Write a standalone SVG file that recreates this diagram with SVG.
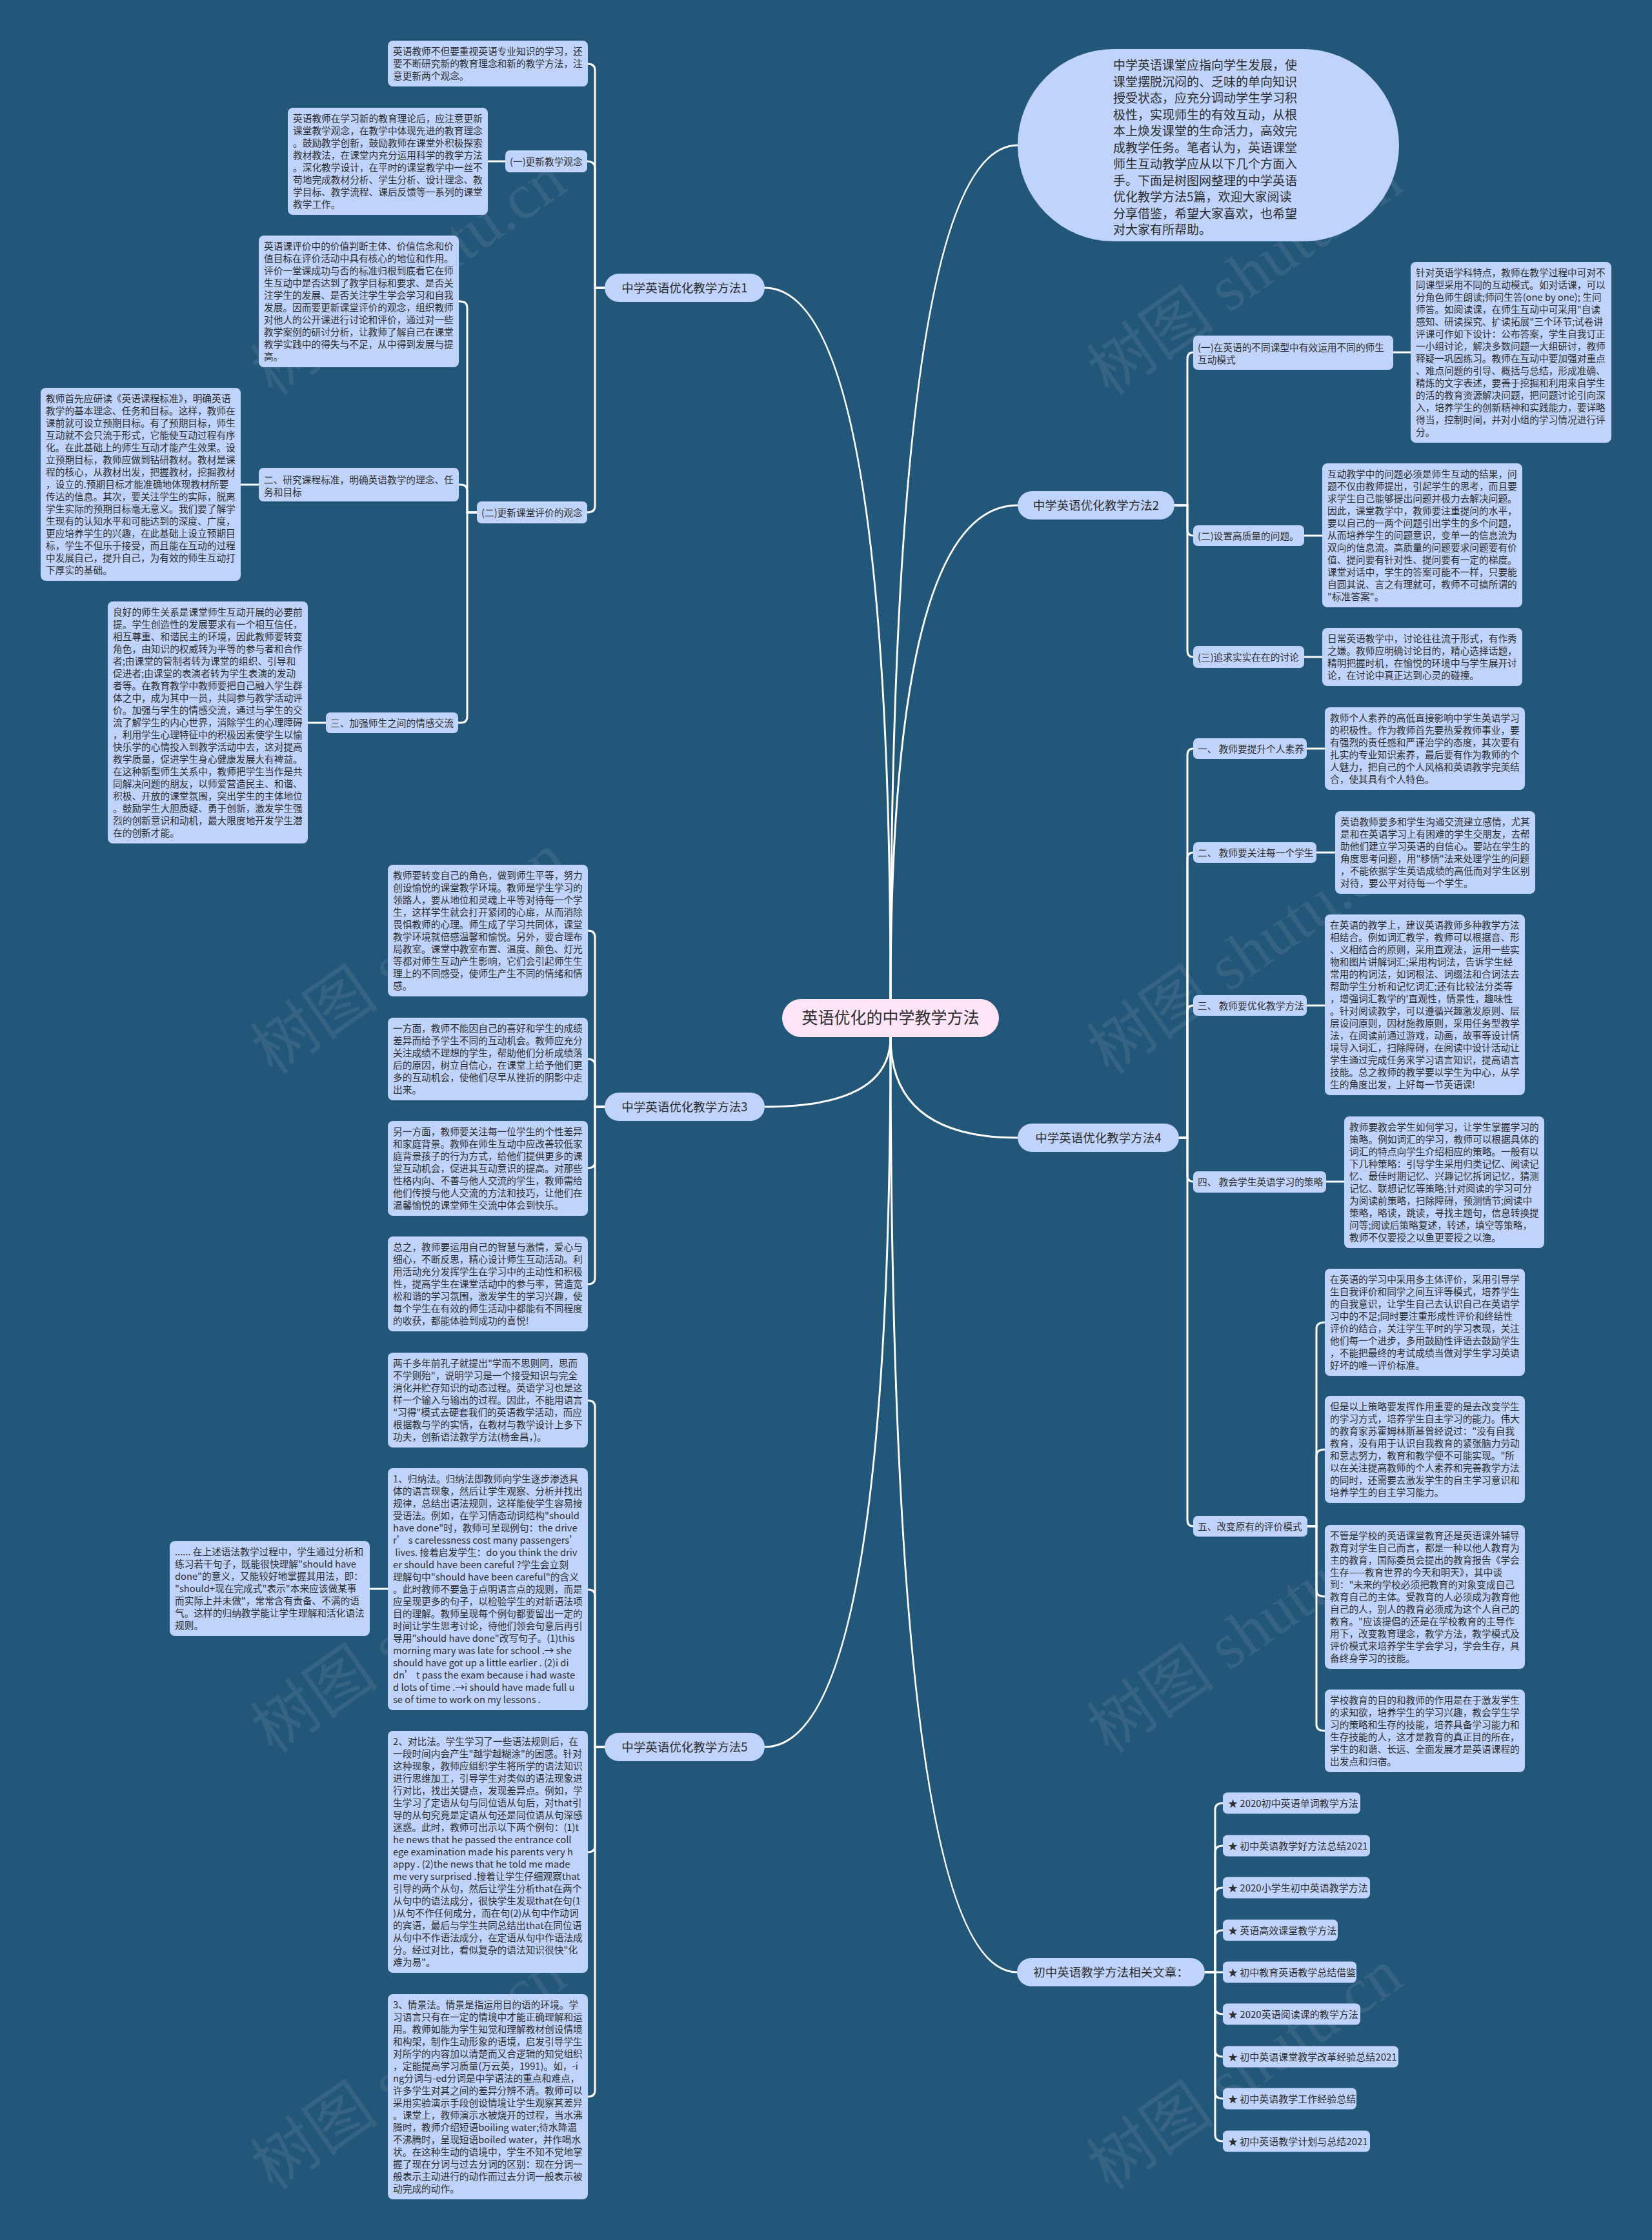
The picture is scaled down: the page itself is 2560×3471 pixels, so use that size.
<svg xmlns="http://www.w3.org/2000/svg" width="2560" height="3471" viewBox="0 0 2560 3471">
<style>
.box{fill:#c0d4fb}
.t{font-family:"Noto Sans CJK SC","Noto Sans",sans-serif;font-size:14.7px;fill:#2e2e2e}
.t1{font-family:"Noto Sans CJK SC","Noto Sans",sans-serif;font-size:18.5px;fill:#2e2e2e;text-anchor:middle}
.tb{font-family:"Noto Sans CJK SC","Noto Sans",sans-serif;font-size:19px;fill:#2e2e2e}
.ti{font-family:"Noto Sans CJK SC","Noto Sans",sans-serif;font-size:15px;fill:#2e2e2e}
.c{fill:none;stroke:#ffffff;stroke-width:3}
.wm{font-family:"Liberation Serif","Noto Sans CJK SC",serif;font-size:100px;fill:#9aa6b2;opacity:0.16}
</style>
<rect x="0" y="0" width="2560" height="3471" fill="#235779"/>

<g id="watermarks">
<text class="wm" transform="translate(653,454) rotate(-35)" text-anchor="middle">树图 shutu.cn</text>
<text class="wm" transform="translate(1949,454) rotate(-35)" text-anchor="middle">树图 shutu.cn</text>
<text class="wm" transform="translate(653,1506) rotate(-35)" text-anchor="middle">树图 shutu.cn</text>
<text class="wm" transform="translate(1949,1506) rotate(-35)" text-anchor="middle">树图 shutu.cn</text>
<text class="wm" transform="translate(653,2558) rotate(-35)" text-anchor="middle">树图 shutu.cn</text>
<text class="wm" transform="translate(1949,2558) rotate(-35)" text-anchor="middle">树图 shutu.cn</text>
<text class="wm" transform="translate(653,3235) rotate(-35)" text-anchor="middle">树图 shutu.cn</text>
<text class="wm" transform="translate(1949,3235) rotate(-35)" text-anchor="middle">树图 shutu.cn</text>
</g>

<g id="connectors" class="c">
<path d="M1380,1548 Q1380,446 1185,446"/>
<path d="M1380,1548 Q1380,225 1577,225"/>
<path d="M1380,1548 Q1380,783 1577,783"/>
<path d="M1380,1607 Q1380,1715 1185,1715"/>
<path d="M1380,1607 Q1380,1763 1577,1763"/>
<path d="M1380,1607 Q1380,2707 1185,2707"/>
<path d="M1380,1607 Q1380,3056 1576,3056"/>

<path d="M937,446 H922 V109 Q922,99 911,99"/>
<path d="M937,446 H922 V261 Q922,250 910,250"/>
<path d="M937,446 H922 V784 Q922,794 910,794"/>
<path d="M783,250 H756"/>
<path d="M739,794 H724 V477 Q724,467 713,467 H711"/>
<path d="M739,794 H724 V761 Q724,751 714,751 H711"/>
<path d="M739,794 H724 V1110 Q724,1120 714,1120 H710"/>
<path d="M401,751 H373"/>
<path d="M505,1120 H477"/>

<path d="M937,1715 H922 V1452 Q922,1442 911,1442"/>
<path d="M937,1715 H922 V1651 Q922,1641 911,1641"/>
<path d="M937,1715 H922 V1800 Q922,1810 911,1810"/>
<path d="M937,1715 H922 V1980 Q922,1990 911,1990"/>

<path d="M937,2707 H922 V2180 Q922,2170 911,2170"/>
<path d="M937,2707 H922 V2473 Q922,2463 911,2463"/>
<path d="M937,2707 H922 V2860 Q922,2870 911,2870"/>
<path d="M937,2707 H922 V3239 Q922,3249 911,3249"/>
<path d="M601,2462 H573"/>

<path d="M1820,783 H1840 V556 Q1840,546 1849,546"/>
<path d="M1820,783 H1840 V820 Q1840,830 1849,830"/>
<path d="M1820,783 H1840 V1008 Q1840,1018 1849,1018"/>
<path d="M2159,546 H2186"/>
<path d="M2021,830 H2049"/>
<path d="M2021,1018 H2049"/>

<path d="M1827,1763 H1840 V1170 Q1840,1160 1849,1160"/>
<path d="M1827,1763 H1840 V1331 Q1840,1321 1849,1321"/>
<path d="M1827,1763 H1840 V1568 Q1840,1558 1849,1558"/>
<path d="M1827,1763 H1840 V1821 Q1840,1831 1849,1831"/>
<path d="M1827,1763 H1840 V2355 Q1840,2365 1849,2365"/>
<path d="M2025,1160 H2053"/>
<path d="M2040,1321 H2069"/>
<path d="M2025,1558 H2053"/>
<path d="M2055,1831 H2083"/>
<path d="M2026,2365 H2040 V2059 Q2040,2049 2053,2049"/>
<path d="M2026,2365 H2040 V2256 Q2040,2246 2053,2246"/>
<path d="M2026,2365 H2040 V2464 Q2040,2474 2053,2474"/>
<path d="M2026,2365 H2040 V2672 Q2040,2682 2053,2682"/>

<path d="M1867,3056 H1883 V2804 Q1883,2794 1895,2794"/>
<path d="M1867,3056 H1883 V2870 Q1883,2860 1895,2860"/>
<path d="M1867,3056 H1883 V2935 Q1883,2925 1895,2925"/>
<path d="M1867,3056 H1883 V3001 Q1883,2991 1895,2991"/>
<path d="M1867,3056 H1895"/>
<path d="M1867,3056 H1883 V3111 Q1883,3121 1895,3121"/>
<path d="M1867,3056 H1883 V3177 Q1883,3187 1895,3187"/>
<path d="M1867,3056 H1883 V3242 Q1883,3252 1895,3252"/>
<path d="M1867,3056 H1883 V3308 Q1883,3318 1895,3318"/>
</g>

<g id="root">
<rect x="1212" y="1548" width="336" height="59" rx="29.5" fill="#fde4f6"/>
<text x="1380" y="1586" text-anchor="middle" style="font-family:'Noto Sans CJK SC',sans-serif;font-size:25px;fill:#2e2e2e">英语优化的中学教学方法</text>
</g>

<g id="intro">
<rect class="box" x="1577" y="76" width="591" height="298" rx="149"/>
<text class="tb">
<tspan x="1725" y="108">中学英语课堂应指向学生发展，使</tspan>
<tspan x="1725" y="133.5">课堂摆脱沉闷的、乏味的单向知识</tspan>
<tspan x="1725" y="159">授受状态，应充分调动学生学习积</tspan>
<tspan x="1725" y="184.5">极性，实现师生的有效互动，从根</tspan>
<tspan x="1725" y="210">本上焕发课堂的生命活力，高效完</tspan>
<tspan x="1725" y="235.5">成教学任务。笔者认为，英语课堂</tspan>
<tspan x="1725" y="261">师生互动教学应从以下几个方面入</tspan>
<tspan x="1725" y="286.5">手。下面是树图网整理的中学英语</tspan>
<tspan x="1725" y="312">优化教学方法5篇，欢迎大家阅读</tspan>
<tspan x="1725" y="337.5">分享借鉴，希望大家喜欢，也希望</tspan>
<tspan x="1725" y="363">对大家有所帮助。</tspan>
</text>
</g>

<g id="m1"><rect class="box" x="937" y="424" width="248" height="44" rx="22"/><text class="t1" x="1061" y="452.5">中学英语优化教学方法1</text></g>
<g id="m2"><rect class="box" x="1577" y="761" width="243" height="44" rx="22"/><text class="t1" x="1698.5" y="789.5">中学英语优化教学方法2</text></g>
<g id="m3"><rect class="box" x="937" y="1693" width="248" height="44" rx="22"/><text class="t1" x="1061" y="1721.5">中学英语优化教学方法3</text></g>
<g id="m4"><rect class="box" x="1577" y="1741" width="250" height="44" rx="22"/><text class="t1" x="1702" y="1769.5">中学英语优化教学方法4</text></g>
<g id="m5"><rect class="box" x="937" y="2685" width="248" height="44" rx="22"/><text class="t1" x="1061" y="2713.5">中学英语优化教学方法5</text></g>
<g id="m6"><rect class="box" x="1576" y="3034" width="291" height="44" rx="22"/><text class="t1" x="1721.5" y="3062.5">初中英语教学方法相关文章：</text></g>

<g id="boxA"><rect class="box" x="601" y="63" width="310" height="71" rx="8"/>
<text class="t"><tspan x="609" y="85">英语教师不但要重视英语专业知识的学习，还</tspan><tspan x="609" y="104">要不断研究新的教育理念和新的教学方法，注</tspan><tspan x="609" y="123">意更新两个观念。</tspan></text></g>

<g id="lab1a"><rect class="box" x="783" y="233" width="127" height="34" rx="7"/><text class="t" x="790" y="255.5">(一)更新教学观念</text></g>

<g id="boxB"><rect class="box" x="446" y="167" width="310" height="166" rx="8"/>
<text class="t"><tspan x="454" y="189">英语教师在学习新的教育理论后，应注意更新</tspan><tspan x="454" y="208">课堂教学观念，在教学中体现先进的教育理念</tspan><tspan x="454" y="227">。鼓励教学创新，鼓励教师在课堂外积极探索</tspan><tspan x="454" y="246">教材教法，在课堂内充分运用科学的教学方法</tspan><tspan x="454" y="265">。深化教学设计，在平时的课堂教学中一丝不</tspan><tspan x="454" y="284">苟地完成教材分析、学生分析、设计理念、教</tspan><tspan x="454" y="303">学目标、教学流程、课后反馈等一系列的课堂</tspan><tspan x="454" y="322">教学工作。</tspan></text></g>

<g id="lab1b"><rect class="box" x="739" y="777" width="171" height="34" rx="7"/><text class="t" x="746" y="799.5">(二)更新课堂评价的观念</text></g>

<g id="boxC"><rect class="box" x="401" y="365" width="310" height="204" rx="8"/>
<text class="t"><tspan x="409" y="387">英语课评价中的价值判断主体、价值信念和价</tspan><tspan x="409" y="406">值目标在评价活动中具有核心的地位和作用。</tspan><tspan x="409" y="425">评价一堂课成功与否的标准归根到底看它在师</tspan><tspan x="409" y="444">生互动中是否达到了教学目标和要求、是否关</tspan><tspan x="409" y="463">注学生的发展、是否关注学生学会学习和自我</tspan><tspan x="409" y="482">发展。因而要更新课堂评价的观念，组织教师</tspan><tspan x="409" y="501">对他人的公开课进行讨论和评价，通过对一些</tspan><tspan x="409" y="520">教学案例的研讨分析，让教师了解自己在课堂</tspan><tspan x="409" y="539">教学实践中的得失与不足，从中得到发展与提</tspan><tspan x="409" y="558">高。</tspan></text></g>

<g id="lab2"><rect class="box" x="401" y="725" width="310" height="52" rx="7"/>
<text class="t"><tspan x="409" y="748.5">二、研究课程标准，明确英语教学的理念、任</tspan><tspan x="409" y="767.5">务和目标</tspan></text></g>

<g id="boxD"><rect class="box" x="63" y="601" width="310" height="299" rx="8"/>
<text class="t"><tspan x="71" y="623">教师首先应研读《英语课程标准》，明确英语</tspan><tspan x="71" y="642">教学的基本理念、任务和目标。这样，教师在</tspan><tspan x="71" y="661">课前就可设立预期目标。有了预期目标，师生</tspan><tspan x="71" y="680">互动就不会只流于形式，它能使互动过程有序</tspan><tspan x="71" y="699">化。在此基础上的师生互动才能产生效果。设</tspan><tspan x="71" y="718">立预期目标，教师应做到钻研教材。教材是课</tspan><tspan x="71" y="737">程的核心，从教材出发，把握教材，挖掘教材</tspan><tspan x="71" y="756">，设立的.预期目标才能准确地体现教材所要</tspan><tspan x="71" y="775">传达的信息。其次，要关注学生的实际，脱离</tspan><tspan x="71" y="794">学生实际的预期目标毫无意义。我们要了解学</tspan><tspan x="71" y="813">生现有的认知水平和可能达到的深度、广度，</tspan><tspan x="71" y="832">更应培养学生的兴趣，在此基础上设立预期目</tspan><tspan x="71" y="851">标，学生不但乐于接受，而且能在互动的过程</tspan><tspan x="71" y="870">中发展自己，提升自己，为有效的师生互动打</tspan><tspan x="71" y="889">下厚实的基础。</tspan></text></g>

<g id="lab3"><rect class="box" x="505" y="1104" width="205" height="32" rx="7"/><text class="t" x="512" y="1125.5">三、加强师生之间的情感交流</text></g>

<g id="boxE"><rect class="box" x="167" y="932" width="310" height="375" rx="8"/>
<text class="t"><tspan x="175" y="954">良好的师生关系是课堂师生互动开展的必要前</tspan><tspan x="175" y="973">提。学生创造性的发展要求有一个相互信任，</tspan><tspan x="175" y="992">相互尊重、和谐民主的环境，因此教师要转变</tspan><tspan x="175" y="1011">角色，由知识的权威转为平等的参与者和合作</tspan><tspan x="175" y="1030">者;由课堂的管制者转为课堂的组织、引导和</tspan><tspan x="175" y="1049">促进者;由课堂的表演者转为学生表演的发动</tspan><tspan x="175" y="1068">者等。在教育教学中教师要把自己融入学生群</tspan><tspan x="175" y="1087">体之中，成为其中一员，共同参与教学活动评</tspan><tspan x="175" y="1106">价。加强与学生的情感交流，通过与学生的交</tspan><tspan x="175" y="1125">流了解学生的内心世界，消除学生的心理障碍</tspan><tspan x="175" y="1144">，利用学生心理特征中的积极因素使学生以愉</tspan><tspan x="175" y="1163">快乐学的心情投入到教学活动中去，这对提高</tspan><tspan x="175" y="1182">教学质量，促进学生身心健康发展大有裨益。</tspan><tspan x="175" y="1201">在这种新型师生关系中，教师把学生当作是共</tspan><tspan x="175" y="1220">同解决问题的朋友，以师爱营造民主、和谐、</tspan><tspan x="175" y="1239">积极、开放的课堂氛围，突出学生的主体地位</tspan><tspan x="175" y="1258">。鼓励学生大胆质疑、勇于创新，激发学生强</tspan><tspan x="175" y="1277">烈的创新意识和动机，最大限度地开发学生潜</tspan><tspan x="175" y="1296">在的创新才能。</tspan></text></g>

<g id="boxF"><rect class="box" x="601" y="1340" width="310" height="204" rx="8"/>
<text class="t"><tspan x="609" y="1362">教师要转变自己的角色，做到师生平等，努力</tspan><tspan x="609" y="1381">创设愉悦的课堂教学环境。教师是学生学习的</tspan><tspan x="609" y="1400">领路人，要从地位和灵魂上平等对待每一个学</tspan><tspan x="609" y="1419">生，这样学生就会打开紧闭的心扉，从而消除</tspan><tspan x="609" y="1438">畏惧教师的心理。师生成了学习共同体，课堂</tspan><tspan x="609" y="1457">教学环境就倍感温馨和愉悦。另外，要合理布</tspan><tspan x="609" y="1476">局教室。课堂中教室布置、温度、颜色、灯光</tspan><tspan x="609" y="1495">等都对师生互动产生影响，它们会引起师生生</tspan><tspan x="609" y="1514">理上的不同感受，使师生产生不同的情绪和情</tspan><tspan x="609" y="1533">感。</tspan></text></g>

<g id="boxG"><rect class="box" x="601" y="1577" width="310" height="128" rx="8"/>
<text class="t"><tspan x="609" y="1599">一方面，教师不能因自己的喜好和学生的成绩</tspan><tspan x="609" y="1618">差异而给予学生不同的互动机会。教师应充分</tspan><tspan x="609" y="1637">关注成绩不理想的学生，帮助他们分析成绩落</tspan><tspan x="609" y="1656">后的原因，树立自信心，在课堂上给予他们更</tspan><tspan x="609" y="1675">多的互动机会，使他们尽早从挫折的阴影中走</tspan><tspan x="609" y="1694">出来。</tspan></text></g>

<g id="boxH"><rect class="box" x="601" y="1737" width="310" height="147" rx="8"/>
<text class="t"><tspan x="609" y="1759">另一方面，教师要关注每一位学生的个性差异</tspan><tspan x="609" y="1778">和家庭背景。教师在师生互动中应改善较低家</tspan><tspan x="609" y="1797">庭背景孩子的行为方式，给他们提供更多的课</tspan><tspan x="609" y="1816">堂互动机会，促进其互动意识的提高。对那些</tspan><tspan x="609" y="1835">性格内向、不善与他人交流的学生，教师需给</tspan><tspan x="609" y="1854">他们传授与他人交流的方法和技巧，让他们在</tspan><tspan x="609" y="1873">温馨愉悦的课堂师生交流中体会到快乐。</tspan></text></g>

<g id="boxI"><rect class="box" x="601" y="1916" width="310" height="147" rx="8"/>
<text class="t"><tspan x="609" y="1938">总之，教师要运用自己的智慧与激情，爱心与</tspan><tspan x="609" y="1957">细心，不断反思，精心设计师生互动活动。利</tspan><tspan x="609" y="1976">用活动充分发挥学生在学习中的主动性和积极</tspan><tspan x="609" y="1995">性，提高学生在课堂活动中的参与率，营造宽</tspan><tspan x="609" y="2014">松和谐的学习氛围，激发学生的学习兴趣，使</tspan><tspan x="609" y="2033">每个学生在有效的师生活动中都能有不同程度</tspan><tspan x="609" y="2052">的收获，都能体验到成功的喜悦!</tspan></text></g>

<g id="boxJ"><rect class="box" x="601" y="2096" width="310" height="147" rx="8"/>
<text class="t"><tspan x="609" y="2118">两千多年前孔子就提出"学而不思则罔，思而</tspan><tspan x="609" y="2137">不学则殆"，说明学习是一个接受知识与完全</tspan><tspan x="609" y="2156">消化并贮存知识的动态过程。英语学习也是这</tspan><tspan x="609" y="2175">样一个输入与输出的过程。因此，不能用语言</tspan><tspan x="609" y="2194">"习得"模式去硬套我们的英语教学活动，而应</tspan><tspan x="609" y="2213">根据教与学的实情，在教材与教学设计上多下</tspan><tspan x="609" y="2232">功夫，创新语法教学方法(杨金昌，)。</tspan></text></g>

<g id="boxK"><rect class="box" x="601" y="2275" width="310" height="375" rx="8"/>
<text class="t"><tspan x="609" y="2297">1、归纳法。归纳法即教师向学生逐步渗透具</tspan><tspan x="609" y="2316">体的语言现象，然后让学生观察、分析并找出</tspan><tspan x="609" y="2335">规律，总结出语法规则，这样能使学生容易接</tspan><tspan x="609" y="2354">受语法。例如，在学习情态动词结构"should</tspan><tspan x="609" y="2373">have done"时，教师可呈现例句：the drive</tspan><tspan x="609" y="2392">r’ s carelessness cost many passengers’</tspan><tspan x="609" y="2411"> lives. 接着启发学生：do you think the driv</tspan><tspan x="609" y="2430">er should have been careful ?学生会立刻</tspan><tspan x="609" y="2449">理解句中"should have been careful"的含义</tspan><tspan x="609" y="2468">。此时教师不要急于点明语言点的规则，而是</tspan><tspan x="609" y="2487">应呈现更多的句子，以检验学生的对新语法项</tspan><tspan x="609" y="2506">目的理解。教师呈现每个例句都要留出一定的</tspan><tspan x="609" y="2525">时间让学生思考讨论，待他们领会句意后再引</tspan><tspan x="609" y="2544">导用"should have done"改写句子。(1)this</tspan><tspan x="609" y="2563">morning mary was late for school .→ she</tspan><tspan x="609" y="2582">should have got up a little earlier . (2)i di</tspan><tspan x="609" y="2601">dn’ t pass the exam because i had waste</tspan><tspan x="609" y="2620">d lots of time .→i should have made full u</tspan><tspan x="609" y="2639">se of time to work on my lessons .</tspan></text></g>

<g id="boxN"><rect class="box" x="263" y="2388" width="310" height="147" rx="8"/>
<text class="t"><tspan x="271" y="2410">...... 在上述语法教学过程中，学生通过分析和</tspan><tspan x="271" y="2429">练习若干句子，既能很快理解"should have</tspan><tspan x="271" y="2448">done"的意义，又能较好地掌握其用法，即：</tspan><tspan x="271" y="2467">"should+现在完成式"表示"本来应该做某事</tspan><tspan x="271" y="2486">而实际上并未做"，常常含有责备、不满的语</tspan><tspan x="271" y="2505">气。这样的归纳教学能让学生理解和活化语法</tspan><tspan x="271" y="2524">规则。</tspan></text></g>

<g id="boxL"><rect class="box" x="601" y="2682" width="310" height="375" rx="8"/>
<text class="t"><tspan x="609" y="2704">2、对比法。学生学习了一些语法规则后，在</tspan><tspan x="609" y="2723">一段时间内会产生"越学越糊涂"的困惑。针对</tspan><tspan x="609" y="2742">这种现象，教师应组织学生将所学的语法知识</tspan><tspan x="609" y="2761">进行思维加工，引导学生对类似的语法现象进</tspan><tspan x="609" y="2780">行对比，找出关键点，发现差异点。例如，学</tspan><tspan x="609" y="2799">生学习了定语从句与同位语从句后，对that引</tspan><tspan x="609" y="2818">导的从句究竟是定语从句还是同位语从句深感</tspan><tspan x="609" y="2837">迷惑。此时，教师可出示以下两个例句：(1)t</tspan><tspan x="609" y="2856">he news that he passed the entrance coll</tspan><tspan x="609" y="2875">ege examination made his parents very h</tspan><tspan x="609" y="2894">appy . (2)the news that he told me made</tspan><tspan x="609" y="2913">me very surprised .接着让学生仔细观察that</tspan><tspan x="609" y="2932">引导的两个从句，然后让学生分析that在两个</tspan><tspan x="609" y="2951">从句中的语法成分，很快学生发现that在句(1</tspan><tspan x="609" y="2970">)从句不作任何成分，而在句(2)从句中作动词</tspan><tspan x="609" y="2989">的宾语，最后与学生共同总结出that在同位语</tspan><tspan x="609" y="3008">从句中不作语法成分，在定语从句中作语法成</tspan><tspan x="609" y="3027">分。经过对比，看似复杂的语法知识很快"化</tspan><tspan x="609" y="3046">难为易"。</tspan></text></g>

<g id="boxM"><rect class="box" x="601" y="3090" width="310" height="318" rx="8"/>
<text class="t"><tspan x="609" y="3112">3、情景法。情景是指运用目的语的环境。学</tspan><tspan x="609" y="3131">习语言只有在一定的情境中才能正确理解和运</tspan><tspan x="609" y="3150">用。教师如能为学生知觉和理解教材创设情境</tspan><tspan x="609" y="3169">和构架，制作生动形象的语境，启发引导学生</tspan><tspan x="609" y="3188">对所学的内容加以清楚而又合逻辑的知觉组织</tspan><tspan x="609" y="3207">，定能提高学习质量(万云英，1991)。如，-i</tspan><tspan x="609" y="3226">ng分词与-ed分词是中学语法的重点和难点，</tspan><tspan x="609" y="3245">许多学生对其之间的差异分辨不清。教师可以</tspan><tspan x="609" y="3264">采用实验演示手段创设情境让学生观察其差异</tspan><tspan x="609" y="3283">。课堂上，教师演示水被烧开的过程，当水沸</tspan><tspan x="609" y="3302">腾时，教师介绍短语boiling water;待水降温</tspan><tspan x="609" y="3321">不沸腾时，呈现短语boiled water，并作喝水</tspan><tspan x="609" y="3340">状。在这种生动的语境中，学生不知不觉地掌</tspan><tspan x="609" y="3359">握了现在分词与过去分词的区别：现在分词一</tspan><tspan x="609" y="3378">般表示主动进行的动作而过去分词一般表示被</tspan><tspan x="609" y="3397">动完成的动作。</tspan></text></g>

<g id="labR1"><rect class="box" x="1849" y="520" width="310" height="53" rx="7"/>
<text class="t"><tspan x="1856" y="543.5">(一)在英语的不同课型中有效运用不同的师生</tspan><tspan x="1856" y="562.5">互动模式</tspan></text></g>

<g id="boxO"><rect class="box" x="2186" y="406" width="311" height="280" rx="8"/>
<text class="t"><tspan x="2194" y="428">针对英语学科特点，教师在教学过程中可对不</tspan><tspan x="2194" y="447">同课型采用不同的互动模式。如对话课，可以</tspan><tspan x="2194" y="466">分角色师生朗读;师问生答(one by one); 生问</tspan><tspan x="2194" y="485">师答。如阅读课，在师生互动中可采用"自读</tspan><tspan x="2194" y="504">感知、研读探究、扩读拓展"三个环节;试卷讲</tspan><tspan x="2194" y="523">评课可作如下设计：公布答案，学生自我订正</tspan><tspan x="2194" y="542">一小组讨论，解决多数问题一大组研讨，教师</tspan><tspan x="2194" y="561">释疑一巩固练习。教师在互动中要加强对重点</tspan><tspan x="2194" y="580">、难点问题的引导、概括与总结，形成准确、</tspan><tspan x="2194" y="599">精炼的文字表述，要善于挖掘和利用来自学生</tspan><tspan x="2194" y="618">的活的教育资源解决问题，把问题讨论引向深</tspan><tspan x="2194" y="637">入，培养学生的创新精神和实践能力，要详略</tspan><tspan x="2194" y="656">得当，控制时间，并对小组的学习情况进行评</tspan><tspan x="2194" y="675">分。</tspan></text></g>

<g id="labR2"><rect class="box" x="1849" y="814" width="172" height="32" rx="7"/><text class="t" x="1856" y="835.5">(二)设置高质量的问题。</text></g>

<g id="boxP"><rect class="box" x="2049" y="718" width="310" height="223" rx="8"/>
<text class="t"><tspan x="2057" y="740">互动教学中的问题必须是师生互动的结果，问</tspan><tspan x="2057" y="759">题不仅由教师提出，引起学生的思考，而且要</tspan><tspan x="2057" y="778">求学生自己能够提出问题并极力去解决问题。</tspan><tspan x="2057" y="797">因此，课堂教学中，教师要注重提问的水平，</tspan><tspan x="2057" y="816">要以自己的一两个问题引出学生的多个问题，</tspan><tspan x="2057" y="835">从而培养学生的问题意识，变单一的信息流为</tspan><tspan x="2057" y="854">双向的信息流。高质量的问题要求问题要有价</tspan><tspan x="2057" y="873">值、提问要有针对性、提问要有一定的梯度。</tspan><tspan x="2057" y="892">课堂对话中，学生的答案可能不一样，只要能</tspan><tspan x="2057" y="911">自圆其说、言之有理就可，教师不可搞所谓的</tspan><tspan x="2057" y="930">"标准答案"。</tspan></text></g>

<g id="labR3"><rect class="box" x="1849" y="1001" width="172" height="34" rx="7"/><text class="t" x="1856" y="1023.5">(三)追求实实在在的讨论</text></g>

<g id="boxQ"><rect class="box" x="2049" y="973" width="310" height="90" rx="8"/>
<text class="t"><tspan x="2057" y="995">日常英语教学中，讨论往往流于形式，有作秀</tspan><tspan x="2057" y="1014">之嫌。教师应明确讨论目的，精心选择话题，</tspan><tspan x="2057" y="1033">精明把握时机，在愉悦的环境中与学生展开讨</tspan><tspan x="2057" y="1052">论，在讨论中真正达到心灵的碰撞。</tspan></text></g>

<g id="labR4"><rect class="box" x="1849" y="1144" width="176" height="32" rx="7"/><text class="t" x="1856" y="1165.5">一、 教师要提升个人素养</text></g>
<g id="boxR"><rect class="box" x="2053" y="1096" width="310" height="128" rx="8"/>
<text class="t"><tspan x="2061" y="1118">教师个人素养的高低直接影响中学生英语学习</tspan><tspan x="2061" y="1137">的积极性。作为教师首先要热爱教师事业，要</tspan><tspan x="2061" y="1156">有强烈的责任感和严谨治学的态度，其次要有</tspan><tspan x="2061" y="1175">扎实的专业知识素养，最后要有作为教师的个</tspan><tspan x="2061" y="1194">人魅力，把自己的个人风格和英语教学完美结</tspan><tspan x="2061" y="1213">合，使其具有个人特色。</tspan></text></g>

<g id="labR5"><rect class="box" x="1849" y="1305" width="191" height="32" rx="7"/><text class="t" x="1856" y="1326.5">二、 教师要关注每一个学生</text></g>
<g id="boxS"><rect class="box" x="2069" y="1257" width="310" height="128" rx="8"/>
<text class="t"><tspan x="2077" y="1279">英语教师要多和学生沟通交流建立感情，尤其</tspan><tspan x="2077" y="1298">是和在英语学习上有困难的学生交朋友，去帮</tspan><tspan x="2077" y="1317">助他们建立学习英语的自信心。要站在学生的</tspan><tspan x="2077" y="1336">角度思考问题，用"移情"法来处理学生的问题</tspan><tspan x="2077" y="1355">，不能依据学生英语成绩的高低而对学生区别</tspan><tspan x="2077" y="1374">对待，要公平对待每一个学生。</tspan></text></g>

<g id="labR6"><rect class="box" x="1849" y="1542" width="176" height="32" rx="7"/><text class="t" x="1856" y="1563.5">三、 教师要优化教学方法</text></g>
<g id="boxT"><rect class="box" x="2053" y="1417" width="310" height="280" rx="8"/>
<text class="t"><tspan x="2061" y="1439">在英语的教学上，建议英语教师多种教学方法</tspan><tspan x="2061" y="1458">相结合。例如词汇教学，教师可以根据音、形</tspan><tspan x="2061" y="1477">、义相结合的原则，采用直观法，运用一些实</tspan><tspan x="2061" y="1496">物和图片讲解词汇;采用构词法，告诉学生经</tspan><tspan x="2061" y="1515">常用的构词法，如词根法、词缀法和合词法去</tspan><tspan x="2061" y="1534">帮助学生分析和记忆词汇;还有比较法分类等</tspan><tspan x="2061" y="1553">，增强词汇教学的'直观性，情景性，趣味性</tspan><tspan x="2061" y="1572">。针对阅读教学，可以遵循兴趣激发原则、层</tspan><tspan x="2061" y="1591">层设问原则，因材施教原则，采用任务型教学</tspan><tspan x="2061" y="1610">法，在阅读前通过游戏，动画，故事等设计情</tspan><tspan x="2061" y="1629">境导入词汇，扫除障碍，在阅读中设计活动让</tspan><tspan x="2061" y="1648">学生通过完成任务来学习语言知识，提高语言</tspan><tspan x="2061" y="1667">技能。总之教师的教学要以学生为中心，从学</tspan><tspan x="2061" y="1686">生的角度出发，上好每一节英语课!</tspan></text></g>

<g id="labR7"><rect class="box" x="1849" y="1815" width="206" height="33" rx="7"/><text class="t" x="1856" y="1836.5">四、 教会学生英语学习的策略</text></g>
<g id="boxU"><rect class="box" x="2083" y="1730" width="310" height="204" rx="8"/>
<text class="t"><tspan x="2091" y="1752">教师要教会学生如何学习，让学生掌握学习的</tspan><tspan x="2091" y="1771">策略。例如词汇的学习，教师可以根据具体的</tspan><tspan x="2091" y="1790">词汇的特点向学生介绍相应的策略。一般有以</tspan><tspan x="2091" y="1809">下几种策略：引导学生采用归类记忆、阅读记</tspan><tspan x="2091" y="1828">忆、最佳时期记忆、兴趣记忆拆词记忆，猜测</tspan><tspan x="2091" y="1847">记忆、联想记忆等策略;针对阅读的学习可分</tspan><tspan x="2091" y="1866">为阅读前策略，扫除障碍，预测情节;阅读中</tspan><tspan x="2091" y="1885">策略，略读，跳读，寻找主题句，信息转换提</tspan><tspan x="2091" y="1904">问等;阅读后策略复述，转述，填空等策略，</tspan><tspan x="2091" y="1923">教师不仅要授之以鱼更要授之以渔。</tspan></text></g>

<g id="labR8"><rect class="box" x="1849" y="2349" width="177" height="32" rx="7"/><text class="t" x="1856" y="2370.5">五、改变原有的评价模式</text></g>
<g id="boxV"><rect class="box" x="2053" y="1966" width="310" height="166" rx="8"/>
<text class="t"><tspan x="2061" y="1988">在英语的学习中采用多主体评价，采用引导学</tspan><tspan x="2061" y="2007">生自我评价和同学之间互评等模式，培养学生</tspan><tspan x="2061" y="2026">的自我意识，让学生自己去认识自己在英语学</tspan><tspan x="2061" y="2045">习中的不足;同时要注重形成性评价和终结性</tspan><tspan x="2061" y="2064">评价的结合，关注学生平时的学习表现，关注</tspan><tspan x="2061" y="2083">他们每一个进步，多用鼓励性评语去鼓励学生</tspan><tspan x="2061" y="2102">，不能把最终的考试成绩当做对学生学习英语</tspan><tspan x="2061" y="2121">好坏的唯一评价标准。</tspan></text></g>
<g id="boxW"><rect class="box" x="2053" y="2163" width="310" height="166" rx="8"/>
<text class="t"><tspan x="2061" y="2185">但是以上策略要发挥作用重要的是去改变学生</tspan><tspan x="2061" y="2204">的学习方式，培养学生自主学习的能力。伟大</tspan><tspan x="2061" y="2223">的教育家苏霍姆林斯基曾经说过："没有自我</tspan><tspan x="2061" y="2242">教育，没有用于认识自我教育的紧张脑力劳动</tspan><tspan x="2061" y="2261">和意志努力，教育和教学便不可能实现。"所</tspan><tspan x="2061" y="2280">以在关注提高教师的个人素养和完善教学方法</tspan><tspan x="2061" y="2299">的同时，还需要去激发学生的自主学习意识和</tspan><tspan x="2061" y="2318">培养学生的自主学习能力。</tspan></text></g>
<g id="boxX"><rect class="box" x="2053" y="2363" width="310" height="223" rx="8"/>
<text class="t"><tspan x="2061" y="2385">不管是学校的英语课堂教育还是英语课外辅导</tspan><tspan x="2061" y="2404">教育对学生自己而言，都是一种以他人教育为</tspan><tspan x="2061" y="2423">主的教育，国际委员会提出的教育报告《学会</tspan><tspan x="2061" y="2442">生存——教育世界的今天和明天》，其中谈</tspan><tspan x="2061" y="2461">到："未来的学校必须把教育的对象变成自己</tspan><tspan x="2061" y="2480">教育自己的主体。受教育的人必须成为教育他</tspan><tspan x="2061" y="2499">自己的人，别人的教育必须成为这个人自己的</tspan><tspan x="2061" y="2518">教育。"应该提倡的还是在学校教育的主导作</tspan><tspan x="2061" y="2537">用下，改变教育理念，教学方法，教学模式及</tspan><tspan x="2061" y="2556">评价模式来培养学生学会学习，学会生存，具</tspan><tspan x="2061" y="2575">备终身学习的技能。</tspan></text></g>
<g id="boxY"><rect class="box" x="2053" y="2618" width="310" height="128" rx="8"/>
<text class="t"><tspan x="2061" y="2640">学校教育的目的和教师的作用是在于激发学生</tspan><tspan x="2061" y="2659">的求知欲，培养学生的学习兴趣，教会学生学</tspan><tspan x="2061" y="2678">习的策略和生存的技能，培养具备学习能力和</tspan><tspan x="2061" y="2697">生存技能的人，这才是教育的真正目的所在，</tspan><tspan x="2061" y="2716">学生的和谐、长远、全面发展才是英语课程的</tspan><tspan x="2061" y="2735">出发点和归宿。</tspan></text></g>

<g id="item1"><rect class="box" x="1895" y="2777.5" width="213" height="33" rx="7"/><text class="ti" x="1903" y="2799.5">★ 2020初中英语单词教学方法</text></g>
<g id="item2"><rect class="box" x="1895" y="2843.5" width="228" height="33" rx="7"/><text class="ti" x="1903" y="2865.5">★ 初中英语教学好方法总结2021</text></g>
<g id="item3"><rect class="box" x="1895" y="2908.5" width="228" height="33" rx="7"/><text class="ti" x="1903" y="2930.5">★ 2020小学生初中英语教学方法</text></g>
<g id="item4"><rect class="box" x="1895" y="2974.5" width="178" height="33" rx="7"/><text class="ti" x="1903" y="2996.5">★ 英语高效课堂教学方法</text></g>
<g id="item5"><rect class="box" x="1895" y="3039.5" width="207" height="33" rx="7"/><text class="ti" x="1903" y="3061.5">★ 初中教育英语教学总结借鉴</text></g>
<g id="item6"><rect class="box" x="1895" y="3104.5" width="213" height="33" rx="7"/><text class="ti" x="1903" y="3126.5">★ 2020英语阅读课的教学方法</text></g>
<g id="item7"><rect class="box" x="1895" y="3170.5" width="272" height="33" rx="7"/><text class="ti" x="1903" y="3192.5">★ 初中英语课堂教学改革经验总结2021</text></g>
<g id="item8"><rect class="box" x="1895" y="3235.5" width="207" height="33" rx="7"/><text class="ti" x="1903" y="3257.5">★ 初中英语教学工作经验总结</text></g>
<g id="item9"><rect class="box" x="1895" y="3301.5" width="228" height="33" rx="7"/><text class="ti" x="1903" y="3323.5">★ 初中英语教学计划与总结2021</text></g>
</svg>
